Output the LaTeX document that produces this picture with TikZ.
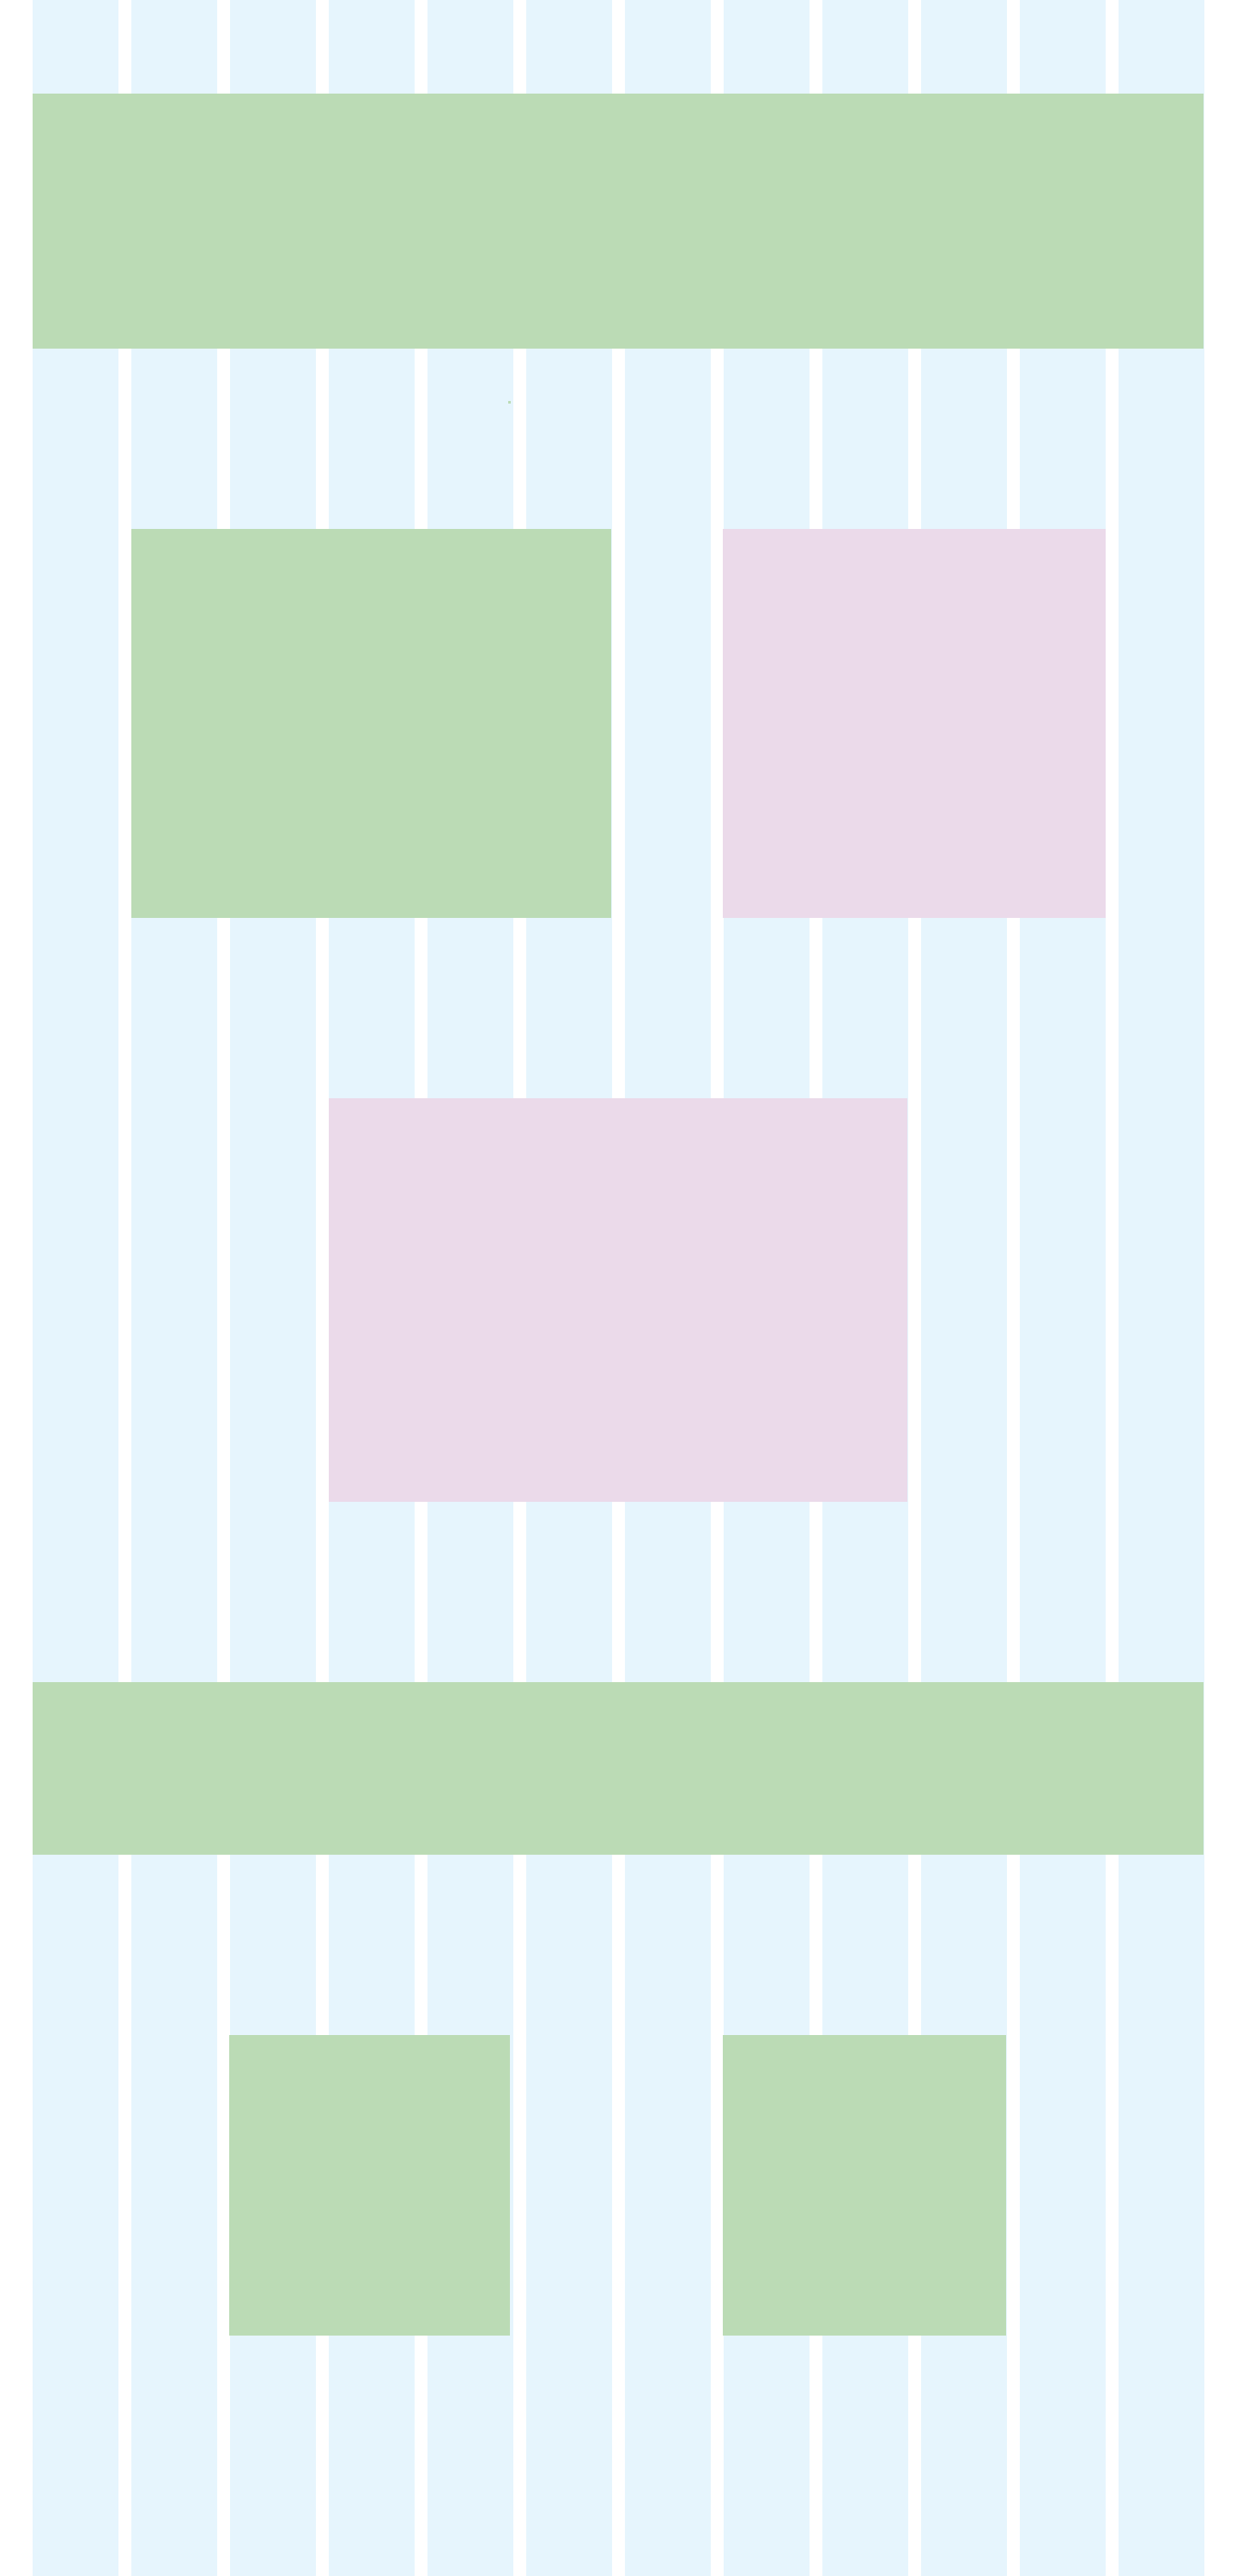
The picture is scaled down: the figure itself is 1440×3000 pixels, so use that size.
\documentclass[tikz,border=0pt]{standalone}
\definecolor{colblue}{RGB}{230,245,253}
\definecolor{blkgreen}{RGB}{187,219,181}
\definecolor{blkpink}{RGB}{235,218,234}
\tikzset{
  gridcol/.style={fill=colblue, draw=none},
  greenblk/.style={fill=blkgreen, draw=none, inner sep=0pt, outer sep=0pt, anchor=north west},
  pinkblk/.style={fill=blkpink, draw=none, inner sep=0pt, outer sep=0pt, anchor=north west},
}
\newcommand{\blk}[6]{% style, name, x1, y1, x2, y2
  \node[#1, minimum width=\fpeval{#5-#3}pt, minimum height=\fpeval{#6-#4}pt] (#2) at (#3pt,-#4pt) {};}
\begin{document}
\begin{tikzpicture}[x=1pt,y=1pt]
\useasboundingbox (0,0) rectangle (1440,-3000);
\fill[white] (0,0) rectangle (1440,-3000);
\foreach \k in {0,...,11} {
  \fill[gridcol] ({37.5+\k*115},0) rectangle ({137.5+\k*115},-3000);
}
\blk{greenblk}{topband}{38}{109}{1402}{406}
\blk{greenblk}{leftblk}{153}{616}{712}{1069}
\blk{pinkblk}{rightblk}{842}{616}{1288}{1069}
\blk{pinkblk}{midblk}{383}{1279}{1057}{1749}
\blk{greenblk}{lowband}{38}{1959}{1402}{2160}
\blk{greenblk}{smallleft}{267}{2370}{594}{2720}
\blk{greenblk}{smallright}{842}{2370}{1172}{2720}
\blk{greenblk}{dot}{592}{467}{595}{470}
\end{tikzpicture}
\end{document}
